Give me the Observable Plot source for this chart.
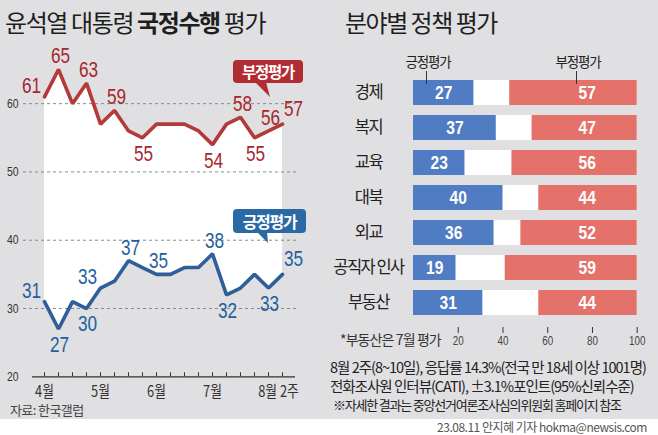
<!DOCTYPE html>
<html><head><meta charset="utf-8">
<script src="https://cdn.jsdelivr.net/npm/d3@7"></script>
<script src="https://cdn.jsdelivr.net/npm/@observablehq/plot@0.6"></script>
<style>
body{margin:0;background:#fff;}
#wrap{position:relative;width:658px;height:435px;overflow:hidden;font-family:"Noto Sans CJK KR","Noto Sans",sans-serif;color:#222;}
.abs{position:absolute;white-space:nowrap;line-height:1;}
#right g[aria-label="y-axis tick label"] text{letter-spacing:-1.5px;}
</style></head><body>
<div id="wrap">
  <div class="abs" style="left:0;top:0;width:658px;height:419px;background:#e0dfe1"></div>
  <div class="abs" style="left:5px;top:10px;font-size:24px;letter-spacing:-1.4px;color:#1e1e1e">윤석열 대통령 <b>국정수행</b> 평가</div>
  <div class="abs" style="left:345px;top:10px;font-size:24px;letter-spacing:-1.5px;color:#1e1e1e">분야별 정책 평가</div>
  <div id="left" class="abs" style="left:0;top:45px"></div>
  <div id="right" class="abs" style="left:330px;top:45px"></div>
  <div class="abs" style="left:10px;top:403px;font-size:13px;letter-spacing:-0.6px;color:#444">자료: 한국갤럽</div>
  <!-- bubbles -->
  <svg class="abs" style="left:0;top:0" width="330" height="300">
    <polygon points="255,82 266,82 270,97" fill="#b22c33"/>
    <polygon points="257,232 267,232 268,243" fill="#2b69a4"/>
  </svg>
  <div class="abs" style="left:233px;top:60px;width:70px;height:23px;border-radius:4px;background:#b22c33;color:#fff;font-size:15.5px;font-weight:700;letter-spacing:-1.3px;text-align:center;line-height:23px">부정평가</div>
  <div class="abs" style="left:233px;top:209px;width:73px;height:24px;border-radius:4px;background:#2b69a4;color:#fff;font-size:16px;font-weight:700;letter-spacing:-1.3px;text-align:center;line-height:24px">긍정평가</div>
  <!-- legend -->
  <div class="abs" style="left:428px;top:55px;transform:translateX(-50%);font-size:13.5px;letter-spacing:-1.2px;color:#222">긍정평가</div>
  <div class="abs" style="left:426px;top:71px;width:1px;height:13px;background:#333"></div>
  <div class="abs" style="left:578px;top:55px;transform:translateX(-50%);font-size:13.5px;letter-spacing:-1.2px;color:#222">부정평가</div>
  <div class="abs" style="left:576px;top:71px;width:1px;height:13px;background:#333"></div>
  <div class="abs" style="left:340px;top:332px;font-size:14px;letter-spacing:-0.9px;color:#333">*부동산은 7월 평가</div>
  <div class="abs" style="left:330px;top:360px;font-size:14.5px;letter-spacing:-1px;color:#222">8월 2주(8~10일), 응답률 14.3%(전국 만 18세 이상 1001명)</div>
  <div class="abs" style="left:330px;top:379px;font-size:14.5px;letter-spacing:-1px;color:#222">전화조사원 인터뷰(CATI), ±3.1%포인트(95%신뢰수준)</div>
  <div class="abs" style="left:333px;top:398px;font-size:13px;letter-spacing:-1.2px;color:#222">※자세한 결과는 중앙선거여론조사심의위원회 홈페이지 참조</div>
  <div class="abs" style="right:11px;top:421px;font-size:12px;letter-spacing:-0.5px;color:#555">23.08.11 안지혜 기자 hokma@newsis.com</div>
</div>
<script>
// ---- data: weekly approval (Gallup) ----
const weeks = ["4월1주","4월2주","4월3주","4월4주","5월1주","5월2주","5월3주","5월4주","6월1주","6월2주","6월3주","6월4주","7월1주","7월2주","7월3주","7월4주","8월1주","8월2주"];
const positive = [31,27,31,30,33,34,37,36,35,35,36,36,38,32,33,35,33,35];
const negative = [61,65,60,63,57,59,56,55,57,57,57,56,54,57,58,55,56,57];
const tickWeeks = ["4월1주","5월1주","6월1주","7월1주","8월2주"];
const tickLabels = ["4월","5월","6월","7월","8월 2주"];
const yTicks = [20,30,40,50,60];
// which points carry a value label, and where it sits (layout)
const negLabelPlace = {0:"nw",1:"n",3:"n",5:"n",7:"s",12:"s",14:"n",15:"s",16:"n",17:"ne"};
const posLabelPlace = {0:"nw",1:"s",3:"s",4:"nw",6:"n",8:"n",12:"n",13:"s",16:"s",17:"ne"};

// ---- data: policy evaluation ----
const categories = ["경제","복지","교육","대북","외교","공직자 인사","부동산"];
const posEval = [27,37,23,40,36,19,31];
const negEval = [57,47,56,44,52,59,44];
const xTicks = [20,40,60,80,100];

const NUM = '"Liberation Sans",Arial,sans-serif';
const KR = '"Noto Sans CJK KR",sans-serif';
const RED_LINE = "#b23a38", BLUE_LINE = "#2e5f98";
const RED_TXT = "#a8262d", BLUE_TXT = "#1f5f9e";

const rows = weeks.map((w,i)=>({i, week:w, pos:positive[i], neg:negative[i]}));
const offs = {n:[2,-13], s:[1,16], nw:[-13,-11], ne:[11,-15]};
function labelMarks(key, place, color){
  return Object.keys(offs).map(p => Plot.text(rows.filter(d => place[d.i] === p), {
    x:"week", y:key, text:key, dx:offs[p][0], dy:offs[p][1],
    fill:color, fontSize:21.5, fontFamily:NUM, className:"cond"
  }));
}
// narrow the glyphs (the reference uses a condensed face) via textLength
function condense(svg, sx){
  svg.querySelectorAll(".cond text").forEach(t=>{
    const L = t.getComputedTextLength();
    if (L > 0) { t.setAttribute("textLength", (L*sx).toFixed(2)); t.setAttribute("lengthAdjust","spacingAndGlyphs"); }
  });
}

const left = Plot.plot({
  width:330, height:360,
  marginLeft:23, marginRight:33, marginTop:0, marginBottom:32.7,
  style:{background:"transparent", overflow:"visible", fontFamily:NUM},
  x:{type:"point", domain:weeks, range:[39,287], padding:0, axis:null},
  y:{domain:[20,65], range:[331.3,24], axis:null},
  marks:[
    Plot.areaY(rows,{x:"week", y1:"pos", y2:"neg", fill:"white"}),
    Plot.gridY([30,40,50,60],{stroke:"#8a8a8a", strokeOpacity:1, strokeDasharray:"3,3"}),
    Plot.axisY(yTicks,{tickSize:0, tickPadding:5, fontSize:13, fill:"#333", label:null, className:"cond"}),
    Plot.ruleY([20],{stroke:"#333", strokeWidth:1.2, insetLeft:9, insetRight:2}),
    Plot.axisX(weeks,{tickSize:4, tickFormat:()=>"", stroke:"#333", label:null}),
    Plot.line(rows,{x:"week", y:"neg", stroke:RED_LINE, strokeWidth:3.6, strokeLinejoin:"miter"}),
    Plot.line(rows,{x:"week", y:"pos", stroke:BLUE_LINE, strokeWidth:3.6, strokeLinejoin:"miter"}),
    ...labelMarks("neg", negLabelPlace, RED_TXT),
    ...labelMarks("pos", posLabelPlace, BLUE_TXT),
    Plot.text(tickWeeks.slice(0,4),{x:d=>d, y:()=>20, text:(d,i)=>tickLabels[i], dy:15, fontSize:16, fill:"#333", fontFamily:KR, className:"cond"}),
    Plot.text(tickWeeks.slice(4),{x:d=>d, y:()=>20, text:(d,i)=>tickLabels[4+i], dy:15, dx:-4, fontSize:16, fill:"#333", fontFamily:KR, className:"cond"})
  ]
});
document.getElementById("left").appendChild(left);
condense(left, 0.8);

const rowsB = categories.map((c,i)=>({cat:c, pos:posEval[i], neg:negEval[i]}));
const right = Plot.plot({
  width:328, height:305,
  marginLeft:83, marginRight:21.3, marginTop:0, marginBottom:23,
  style:{background:"transparent", overflow:"visible", fontFamily:NUM},
  x:{domain:[0,100], range:[83,306.7], axis:null},
  y:{domain:categories, range:[27.05,278.45], paddingInner:0.3, paddingOuter:0.15, axis:null},
  marks:[
    Plot.barX(rowsB,{y:"cat", x1:()=>0, x2:()=>100, fill:"white"}),
    Plot.barX(rowsB,{y:"cat", x1:()=>0, x2:"pos", fill:"#4f7cc2"}),
    Plot.barX(rowsB,{y:"cat", x1:d=>100-d.neg, x2:()=>100, fill:"#e4716a"}),
    Plot.text(rowsB,{y:"cat", x:d=>d.pos/2, text:"pos", fill:"white", fontSize:19, fontWeight:"bold", className:"cond"}),
    Plot.text(rowsB,{y:"cat", x:()=>100, dx:-50, text:"neg", fill:"white", fontSize:19, fontWeight:"bold", className:"cond"}),
    Plot.axisY({tickSize:0, tickPadding:45, textAnchor:"middle", fontSize:16.5, fill:"#222", fontFamily:KR, label:null}),
    Plot.axisX(xTicks,{tickSize:6, tickPadding:3, fontSize:12, fill:"#444", stroke:"#333", label:null, className:"cond"})
  ]
});
document.getElementById("right").appendChild(right);
condense(right, 0.82);
</script>
</body></html>
